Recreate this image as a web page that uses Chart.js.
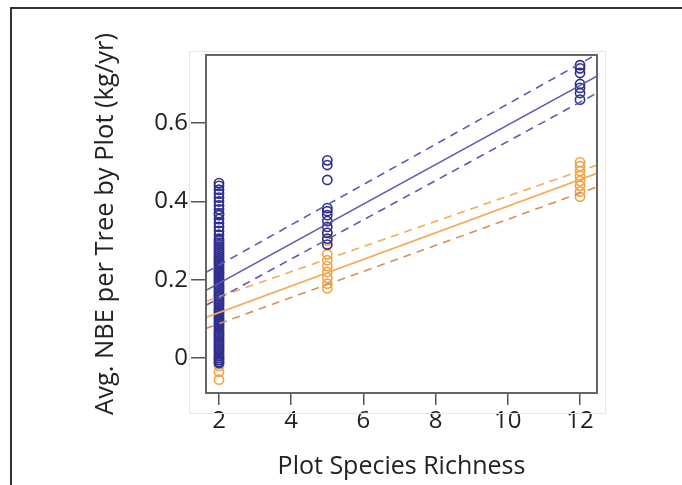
<!DOCTYPE html>
<html>
<head>
<meta charset="utf-8">
<script src="https://cdn.jsdelivr.net/npm/chart.js@4/dist/chart.umd.min.js"></script>
<style>
  html, body { margin: 0; padding: 0; background: #fff; }
  #wrap { position: relative; width: 682px; height: 485px; overflow: hidden; }
  #frame { position: absolute; left: 10px; top: 7px; width: 700px; height: 500px;
           border-top: 2px solid #333; border-left: 2px solid #333; }
  #out { position: absolute; left: 0; top: 0; }
</style>
</head>
<body>
<div id="wrap">
  <div id="frame"></div>
  <canvas id="out" width="682" height="485"></canvas>
</div>
<script>
// plot species richness (x) and avg NBE per tree (y)
const blueX2 = [0.447, 0.44, 0.43, 0.42, 0.41, 0.40, 0.39, 0.38, 0.37, 0.365, 0.355, 0.345, 0.335,
  0.325, 0.315, 0.305, 0.30, 0.295, 0.29, 0.285, 0.28, 0.275, 0.27, 0.265, 0.26, 0.255, 0.25, 0.245,
  0.24, 0.235, 0.23, 0.225, 0.22, 0.215, 0.21, 0.205, 0.20, 0.195, 0.19, 0.185, 0.18, 0.175, 0.17,
  0.165, 0.16, 0.155, 0.15, 0.145, 0.14, 0.135, 0.13, 0.125, 0.12, 0.115, 0.11, 0.105, 0.10, 0.095,
  0.09, 0.085, 0.08, 0.075, 0.07, 0.065, 0.06, 0.055, 0.05, 0.045, 0.04, 0.035, 0.03, 0.025, 0.02,
  0.015, 0.01, 0.005, 0.0, -0.005, -0.01, -0.013];
const blueX5 = [0.505, 0.493, 0.455, 0.383, 0.375, 0.365, 0.35, 0.335, 0.32, 0.305, 0.29];
const blueX12 = [0.748, 0.74, 0.728, 0.70, 0.69, 0.677, 0.66];

const orangeX2 = [0.25, 0.22, 0.20, 0.18, 0.16, 0.14, 0.12, 0.10, 0.08, 0.06, 0.04, 0.02, 0.0,
  -0.02, -0.035, -0.055];
const orangeX5 = [0.32, 0.30, 0.265, 0.25, 0.235, 0.22, 0.205, 0.19, 0.178];
const orangeX12 = [0.50, 0.49, 0.478, 0.465, 0.452, 0.44, 0.425, 0.412];

// fitted lines and bands, at the two ends of the x range
const lineX = [1.64, 12.47];
const blueFit = [0.173, 0.720];
const blueUpper = [0.219, 0.776];
const blueLower = [0.135, 0.677];
const orangeFit = [0.104, 0.472];
const orangeUpper = [0.145, 0.493];
const orangeLower = [0.076, 0.437];

const xTicks = [2, 4, 6, 8, 10, 12];
const yTicks = [0, 0.2, 0.4, 0.6];

const BLUE = "#2e2f8f";
const BLUE_LINE = "#5c5cb4";
const ORANGE = "#f2a444";
const ORANGE_LINE = "#f4ac58";
const ORANGE_LOW = "#d98f5a";
const TEXT = "#222";
const FONT = "Open Sans";

function points(x, ys) {
  return ys.map(y => ({x: x, y: y}));
}
function linePoints(ys) {
  return lineX.map((x, i) => ({x: x, y: ys[i]}));
}

function scatterSet(data, color, order) {
  return {
    type: "scatter",
    data: data,
    borderColor: color,
    backgroundColor: "rgba(0,0,0,0)",
    pointRadius: 4.6,
    pointBorderWidth: 1.6,
    pointHoverRadius: 4.6,
    order: order
  };
}
function lineSet(ys, color, dashed) {
  return {
    type: "line",
    data: linePoints(ys),
    borderColor: color,
    borderWidth: 1.6,
    borderDash: dashed ? [8, 6] : [],
    pointRadius: 0,
    fill: false,
    order: 0
  };
}

// plot box and the faint outer box around it
const boxPlugin = {
  id: "box",
  beforeDatasetsDraw(chart) {
    const ctx = chart.ctx;
    ctx.save();
    ctx.strokeStyle = "#e6e6e6";
    ctx.lineWidth = 1;
    ctx.strokeRect(189.5, 51.5, 416, 362);
    ctx.restore();
  },
  afterDatasetsDraw(chart) {
    const a = chart.chartArea;
    const ctx = chart.ctx;
    ctx.save();
    ctx.strokeStyle = "#666";
    ctx.lineWidth = 2;
    ctx.strokeRect(a.left, a.top, a.right - a.left, a.bottom - a.top);
    ctx.restore();
  }
};

const chartConfig = {
  data: {
    datasets: [
      lineSet(blueFit, BLUE_LINE, false),
      lineSet(blueUpper, BLUE_LINE, true),
      lineSet(blueLower, BLUE_LINE, true),
      lineSet(orangeFit, ORANGE_LINE, false),
      lineSet(orangeUpper, ORANGE_LINE, true),
      lineSet(orangeLower, ORANGE_LOW, true),
      scatterSet(points(2, blueX2).concat(points(5, blueX5), points(12, blueX12)), BLUE, 1),
      scatterSet(points(2, orangeX2).concat(points(5, orangeX5), points(12, orangeX12)), ORANGE, 2)
    ]
  },
  options: {
    responsive: false,
    animation: false,
    layout: {padding: {left: 86, right: 85, top: 55, bottom: 0}},
    plugins: {legend: {display: false}, tooltip: {enabled: false}},
    scales: {
      x: {
        type: "linear",
        min: 1.64,
        max: 12.47,
        afterBuildTicks: s => { s.ticks = xTicks.map(v => ({value: v})); },
        afterFit: s => { s.height = 92; },
        border: {display: false},
        grid: {drawOnChartArea: false, drawTicks: true, tickLength: 12, color: "#555", lineWidth: 1.5},
        ticks: {color: TEXT, padding: 2, font: {family: FONT, size: 24}, maxRotation: 0},
        title: {display: true, text: "Plot Species Richness", color: TEXT,
                font: {family: FONT, size: 25}, padding: 3}
      },
      y: {
        type: "linear",
        min: -0.089,
        max: 0.774,
        afterBuildTicks: s => { s.ticks = yTicks.map(v => ({value: v})); },
        afterFit: s => { s.width = 120; },
        border: {display: false},
        grid: {drawOnChartArea: false, drawTicks: true, tickLength: 15, color: "#555", lineWidth: 1.5},
        ticks: {color: TEXT, padding: 3, font: {family: FONT, size: 24},
                callback: v => String(v)},
        title: {display: true, text: "Avg. NBE per Tree by Plot (kg/yr)", color: TEXT,
                font: {family: FONT, size: 25.5}, padding: 4}
      }
    }
  },
  plugins: [boxPlugin]
};

window.chart = new Chart(document.getElementById("out").getContext("2d"), chartConfig);
</script>
</body>
</html>
